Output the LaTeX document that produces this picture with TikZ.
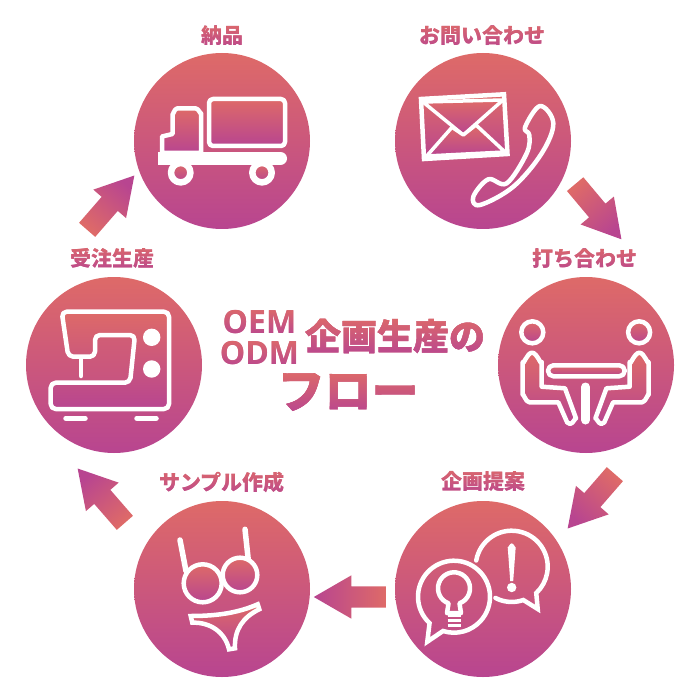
\documentclass[tikz,border=0pt]{standalone}
\usepackage{fontspec}
\setmainfont{Noto Sans CJK JP}
\newfontfamily\latinfont{Open Sans}
\usetikzlibrary{shapes.arrows,fadings}
\definecolor{gradtop}{RGB}{222,106,104}
\definecolor{gradbot}{RGB}{184,69,144}
\definecolor{gradmid}{RGB}{203,88,124}
\tikzset{
	disc/.style={circle,minimum size=176pt,inner sep=0pt,top color=gradtop,bottom color=gradbot},
	flowarrow/.style={single arrow,anchor=tail,minimum height=72pt,minimum width=43pt,inner xsep=0pt,inner ysep=10.5pt,
		single arrow head extend=11pt,single arrow head indent=0pt,single arrow tip angle=60,
		top color=gradtop,bottom color=gradbot},
	label/.style={inner sep=0pt,text=gradmid,font=\bfseries\fontsize{21}{23}\selectfont},
	oemtitle/.style={inner sep=0pt,text=gradmid,font=\latinfont\bfseries\fontsize{32}{34}\selectfont},
	plantitle/.style={inner sep=0pt,text=gradmid,font=\bfseries\addfontfeature{FakeBold=0.6}\fontsize{36}{38}\selectfont},
	flowtitle/.style={inner sep=0pt,text=gradmid,font=\bfseries\addfontfeature{FakeBold=0.8}\fontsize{47}{49}\selectfont},
	wire/.style={draw=white,line width=4.5pt,line join=round,line cap=round},
	panel/.style={wire,top color=gradtop,bottom color=gradbot},
	blob/.style={fill=white,draw=none},
	gradtext/.style={path fading=#1,fit fading=false,top color=gradtop,bottom color=gradbot}
}
\newcommand\textfade[3]{\begin{tikzfadingfrompicture}[name=#1]
		\node[#2,text=transparent!0] {#3};
	\end{tikzfadingfrompicture}}
\textfade{lblAfade}{label}{お問い合わせ}
\textfade{lblBfade}{label}{打ち合わせ}
\textfade{lblCfade}{label}{企画提案}
\textfade{lblDfade}{label}{サンプル作成}
\textfade{lblEfade}{label}{受注生産}
\textfade{lblFfade}{label}{納品}
\textfade{oemfade}{oemtitle}{OEM}
\textfade{odmfade}{oemtitle}{ODM}
\textfade{planfade}{plantitle}{企画生産の}
\textfade{flowfade}{flowtitle}{フロー}
\begin{document}
\begin{tikzpicture}[x=1pt,y=-1pt]
	\useasboundingbox (0,0) rectangle (700,700);
	\node[disc] (mail) at (483,141) {};
	\node[disc] (meet) at (586,365) {};
	\node[disc] (idea) at (483,589) {};
	\node[disc] (sample) at (222,589) {};
	\node[disc] (sewing) at (114,365) {};
	\node[disc] (truck) at (222,141) {};
	\node[flowarrow,rotate=-50,shading angle=40] (arrowA) at (575,184) {};
	\node[flowarrow,rotate=229,shading angle=319] (arrowB) at (615,474) {};
	\node[flowarrow,rotate=180,shading angle=270] (arrowC) at (386,597) {};
	\node[flowarrow,rotate=131,shading angle=221] (arrowD) at (125,523) {};
	\node[flowarrow,rotate=49,shading angle=139] (arrowE) at (87,230) {};
	% truck
	\shadedraw[panel] (162,153) -- (162,136.5) -- (172.5,134) -- (172.5,114) to[out=-90,in=180] (177,108.5)
		-- (196,108.5) to[out=0,in=-90] (201,113) -- (201,153) -- cycle;
	\shadedraw[panel,rounded corners=4pt] (209,99) rectangle (285,146);
	\draw[white,line width=13pt,line cap=round] (164.5,158.5) -- (280.5,158.5);
	\fill[white] (158,152) rectangle (170,165);
	\foreach \x in {180.7,262}{
		\shadedraw[panel,line width=6.5pt] (\x,172.7) circle[radius=9.7];
	}
	% envelope and phone
	\shadedraw[panel,line join=miter] (421,99) -- (504,94.3) -- (507.5,154) -- (424,159) -- cycle;
	\shadedraw[panel,line width=3.5pt] (423,102) -- (463.3,135) -- (503,100) -- cycle;
	\shadedraw[panel,line width=3.5pt] (452,127.3) -- (463.3,135) -- (476,125) -- (505,152) -- (426.7,156) -- cycle;
	\draw[wire] plot[smooth cycle,tension=0.6] coordinates {(540,106) (553.3,123.3) (541.7,153.3) (513.3,186.7) (480,205)
		(473.3,196.7) (488.3,179.3) (506.7,183.3) (526.7,153.3) (529.3,135) (525,127.3)};
	% two people at a table
	\foreach \flip/\move in {1/0,-1/1171.4}{
		\begin{scope}[xshift=\move pt,xscale=\flip]
			\shadedraw[panel] (532.3,332.3) circle[radius=11];
			\shadedraw[panel] (522.7,362) to[out=-90,in=180] (532,352.7) to[out=0,in=-90] (541.7,362)
				-- (541.7,386.7) -- (565,388.3) -- (576,418.3) to[out=80,in=0] (570,424) to[out=180,in=60] (567.3,422.7)
				-- (558.3,402.3) -- (529.3,402.3) to[out=180,in=90] (522.7,395) -- cycle;
		\end{scope}
	}
	\shadedraw[panel,rounded corners=5.4pt] (548,365.3) rectangle (624.7,376.3);
	\draw[wire,line width=9pt] (585.5,387) -- (585.5,420);
	% speech bubbles
	\draw[wire,line join=miter] (511.7,566.7) ++(190:36) arc[start angle=190,end angle=407,radius=36]
		-- (537.7,609) -- (523.3,600) arc[start angle=70.7,end angle=117.8,radius=35];
	\fill[blob] (507.7,547) to[out=-90,in=180] (511.7,543.3) to[out=0,in=-90] (515.7,547) -- (513.2,581) -- (510.2,581) -- cycle;
	\fill[blob] (511.7,587.5) circle[radius=4.7];
	\draw[wire,line join=miter] (454,596.7) ++(132.8:36) arc[start angle=132.8,end angle=467.7,radius=36]
		-- (427.3,641.7) -- cycle;
	\draw[wire] (454,588.3) ++(110:16) arc[start angle=110,end angle=430,radius=16] -- (461,613) -- (447,613) -- cycle;
	\foreach \y in {615.5,620.5,625.5}{
		\draw[white,line width=3pt] (447.5,\y) -- (461,\y);
	}
	% lingerie
	\draw[wire,line width=5.5pt] (180,540) -- (186,571);
	\draw[wire,line width=5.5pt] (245,529.3) -- (248.3,560);
	\shadedraw[panel] (202.7,583.3) circle[radius=19];
	\shadedraw[panel] (240,575) circle[radius=17.3];
	\shadedraw[panel,line join=miter] (190.7,616) .. controls (220,616) and (240,612) .. (257.7,604.3) -- (259.3,609.3)
		.. controls (243,617) and (234,630) .. (235,648.3) -- (229,649.3) .. controls (225,632) and (210,622) .. (192.3,622.7) -- cycle;
	% sewing machine
	\shadedraw[panel,rounded corners=5pt] (61.7,311.7) -- (169,311.7) -- (169,409) -- (50.7,409) -- (50.7,382.7)
		-- (130,382.7) -- (135,335) -- (95,335) -- (95,356.7) -- (68.3,356.7) -- cycle;
	\draw[wire] (81,358.3) -- (81,376);
	\fill[blob] (151.7,337.3) circle[radius=8.7];
	\fill[blob] (151.7,369) circle[radius=8.7];
	\draw[wire,line width=5.5pt] (66,418.3) -- (85,418.3);
	\draw[wire,line width=5.5pt] (137,418.3) -- (156,418.3);
	% labels, gradient laid on each
	\node[label] (lblA) at (482,36) {お問い合わせ};
	\node[label] (lblB) at (585,259) {打ち合わせ};
	\node[label] (lblC) at (483,481) {企画提案};
	\node[label] (lblD) at (222,482) {サンプル作成};
	\node[label] (lblE) at (112,258) {受注生産};
	\node[label] (lblF) at (222,36) {納品};
	\node[oemtitle] (oem) at (259.5,322) {OEM};
	\node[oemtitle] (odm) at (259.5,353) {ODM};
	\node[plantitle] (plan) at (395,336) {企画生産の};
	\node[flowtitle] (flow) at (348,392) {フロー};
	\foreach \n in {lblA,lblB,lblC,lblD,lblE,lblF,oem,odm,plan,flow}{
		\shade[gradtext=\n fade,fading transform={shift={(\n.center)}}] ([shift={(-3,-3)}]\n.north west) rectangle ([shift={(3,3)}]\n.south east);
	}
\end{tikzpicture}
\end{document}
